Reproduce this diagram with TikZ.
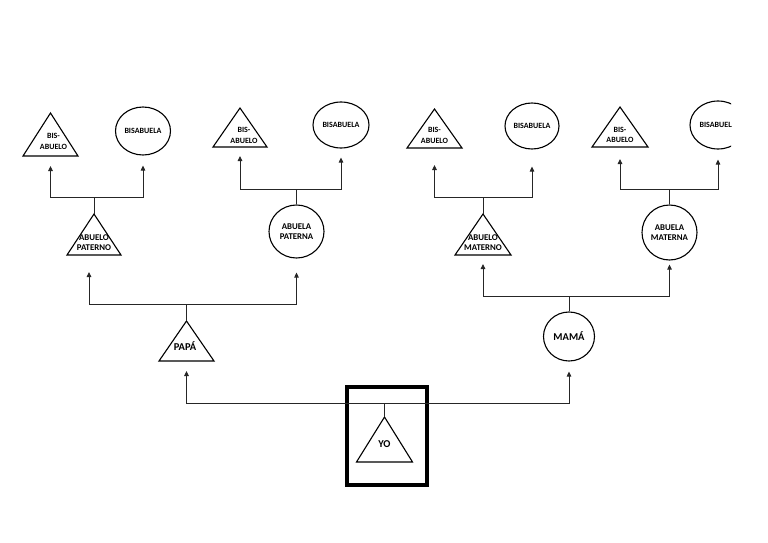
\documentclass[tikz,border=0pt]{standalone}
\usepackage{fontspec}
\setmainfont{Carlito}
\usetikzlibrary{arrows.meta,shapes.geometric}
\tikzset{
  person/.style={draw=black,line width=1.1pt},
  fthree/.style={font=\bfseries\fontsize{8}{10.5}\selectfont},
  ftwo/.style={font=\bfseries\fontsize{8.8}{10.5}\selectfont},
  fone/.style={font=\bfseries\fontsize{10.5}{12}\selectfont},
  femnode/.style={ellipse,person,inner sep=0pt,align=center},
  malnode/.style={inner sep=0pt,outer sep=0pt},
  tritext/.style={inner sep=0pt,align=center},
  link/.style={line width=0.9pt,black!85},
  toparent/.style={link,-{Triangle[width=4.5pt,length=5pt]},shorten >=#1},
  toparent/.default=9pt,
  yobox/.style={draw=black,line width=4pt,inner sep=0pt},
}

\begin{document}
\begin{tikzpicture}[x=1pt,y=-1pt]
  \useasboundingbox (0,0) rectangle (768,543);
  \clip (0,0) rectangle (731,543);
  % bisabuelos
  \node[malnode,minimum width=55,minimum height=43,
    label={[tritext,fthree,name=bisA1t,xshift=3pt,yshift=-7pt]center:BIS-\\ABUELO}] (bisA1) at (50.5,134.5) {};
  \node[femnode,fthree,minimum width=55,minimum height=48] (bisB1) at (143,131) {BISABUELA};
  \node[malnode,minimum width=54,minimum height=39,
    label={[tritext,fthree,name=bisA2t,xshift=4pt,yshift=-8pt]center:BIS-\\ABUELO}] (bisA2) at (240,127.5) {};
  \node[femnode,fthree,minimum width=56,minimum height=46] (bisB2) at (341,125) {BISABUELA};
  \node[malnode,minimum width=55,minimum height=39,
    label={[tritext,fthree,name=bisA3t,yshift=-7pt]center:BIS-\\ABUELO}] (bisA3) at (434.5,128.5) {};
  \node[femnode,fthree,minimum width=54,minimum height=46] (bisB3) at (532,126) {BISABUELA};
  \node[malnode,minimum width=56,minimum height=40,
    label={[tritext,fthree,name=bisA4t,yshift=-8pt]center:BIS-\\ABUELO}] (bisA4) at (620,127) {};
  \node[femnode,fthree,minimum width=56,minimum height=48] (bisB4) at (718,125) {BISABUELA};
  % abuelos
  \node[malnode,minimum width=54,minimum height=41,
    label={[tritext,ftwo,name=abPt,yshift=-8pt]center:ABUELO\\PATERNO}] (abP) at (94,234.5) {};
  \node[femnode,ftwo,minimum width=55,minimum height=53] (abaP) at (296.5,231.5) {ABUELA\\PATERNA};
  \node[malnode,minimum width=56,minimum height=41,
    label={[tritext,ftwo,name=abMt,yshift=-8pt]center:ABUELO\\MATERNO}] (abM) at (483,234.5) {};
  \node[femnode,ftwo,minimum width=55,minimum height=55] (abaM) at (669.5,232.5) {ABUELA\\MATERNA};
  % padres
  \node[malnode,minimum width=55,minimum height=40,
    label={[tritext,fone,name=papat,xshift=-1.5pt,yshift=-5pt]center:PAPÁ}] (papa) at (186.5,341) {};
  \node[femnode,fone,minimum width=51,minimum height=49] (mama) at (569,336.5) {MAMÁ};
  % yo
  \node[malnode,minimum width=56,minimum height=45,
    label={[tritext,fone,name=yot,yshift=-5pt]center:YO}] (yo) at (384.5,439.5) {};
  \node[yobox,minimum width=80,minimum height=98] (marco) at (387,436) {};
  \foreach \n in {bisA1,bisA2,bisA3,bisA4,abP,abM,papa,yo}
    \draw[person,line join=miter] (\n.south west) -- (\n.north) -- (\n.south east) -- cycle;
  % uniones
  \coordinate (j1) at (abP.north |- 0,197);
  \coordinate (j2) at (abaP.north |- 0,189);
  \coordinate (j3) at (abM.north |- 0,197);
  \coordinate (j4) at (abaM.north |- 0,189);
  \coordinate (j5) at (papa.north |- 0,304);
  \coordinate (j6) at (mama.north |- 0,296);
  \coordinate (j7) at (yo.north |- 0,403);
  \draw[link] (abP.north) -- (j1);
  \draw[toparent=10pt] (j1) -| (bisA1.south);
  \draw[toparent=10pt] (j1) -| (bisB1.south);
  \draw[link] (abaP.north) -- (j2);
  \draw[toparent] (j2) -| (bisA2.south);
  \draw[toparent] (j2) -| (bisB2.south);
  \draw[link] (abM.north) -- (j3);
  \draw[toparent=17pt] (j3) -| (bisA3.south);
  \draw[toparent=17pt] (j3) -| (bisB3.south);
  \draw[link] (abaM.north) -- (j4);
  \draw[toparent=12pt] (j4) -| (bisA4.south);
  \draw[toparent=10pt] (j4) -| (bisB4.south);
  \draw[link] (papa.north) -- (j5);
  \draw[toparent=17pt] (j5) -| ([xshift=-5pt]abP.south);
  \draw[toparent=14pt] (j5) -| (abaP.south);
  \draw[link] (mama.north) -- (j6);
  \draw[toparent=9pt] (j6) -| (abM.south);
  \draw[toparent=4pt] (j6) -| (abaM.south);
  \draw[link] (yo.north) -- (j7);
  \draw[toparent=10pt] (j7) -| (papa.south);
  \draw[toparent=10pt] (j7) -| (mama.south);
\end{tikzpicture}
\end{document}
